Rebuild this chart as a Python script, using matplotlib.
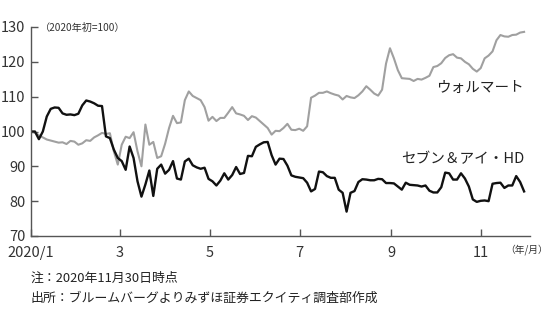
import matplotlib
matplotlib.use("Agg")
import matplotlib.pyplot as plt
import pandas as pd

plt.rcParams['font.family'] = ['Noto Sans CJK JP', 'DejaVu Sans']

start_date = "2020-01-01"
end_date = "2020-11-30"

walmart = [
    100, 99.7, 98.9, 98.3, 97.7, 97.4, 97.1, 96.8, 96.9, 96.4,
    97.3, 97.1, 96.2, 96.6, 97.5, 97.3, 98.3, 98.9, 99.6, 99.3,
    99.5, 94.3, 90.5, 96.2, 98.5, 98.1, 99.8, 94.3, 90.0, 102.0,
    96.2, 97.0, 92.4, 92.9, 96.5, 101.0, 104.5, 102.4, 102.6, 109.0,
    111.5, 110.2, 109.6, 109.0, 107.0, 103.1, 104.2, 103.0, 103.9, 103.9,
    105.4, 107.0, 105.2, 104.9, 104.5, 103.3, 104.4, 104.0, 103.0, 102.0,
    101.0, 99.1, 100.2, 100.1, 101.0, 102.2, 100.5, 100.4, 100.8, 100.2,
    101.5, 109.7, 110.3, 111.1, 111.1, 111.5, 111.0, 110.6, 110.3, 109.2,
    110.2, 109.8, 109.6, 110.4, 111.5, 113.0, 112.0, 110.9, 110.3, 112.0,
    119.5, 123.9, 121.0, 117.6, 115.3, 115.2, 115.1, 114.5, 115.1, 114.9,
    115.4, 116.0, 118.5, 118.8, 119.6, 121.1, 121.9, 122.2, 121.2, 121.0,
    120.0, 119.3, 118.0, 117.2, 118.2, 121.0, 121.8, 123.0, 126.2, 127.7,
    127.3, 127.2, 127.7, 127.8, 128.4, 128.6,
]

seven_i = [
    100, 100, 97.8, 100, 104.3, 106.5, 106.9, 106.8, 105.2, 104.8,
    104.9, 104.7, 105.1, 107.5, 108.9, 108.6, 108.1, 107.4, 107.3, 98.6,
    98.1, 94.8, 92.4, 91.5, 89.0, 95.7, 92.4, 85.7, 81.3, 84.8,
    88.8, 81.5, 89.3, 90.5, 87.9, 89.0, 91.5, 86.5, 86.2, 91.4,
    92.2, 90.3, 89.7, 89.3, 89.6, 86.4, 85.7, 84.5, 85.9, 88.0,
    86.2, 87.5, 89.8, 87.8, 88.1, 93.0, 92.9, 95.6, 96.3, 96.9,
    97.0, 93.2, 90.5, 92.2, 92.1, 90.2, 87.4, 87.0, 86.8, 86.6,
    85.3, 82.8, 83.5, 88.5, 88.3, 87.2, 86.7, 86.7, 83.3, 82.4,
    77.0, 82.4, 82.9, 85.5, 86.3, 86.2, 86.0, 86.0, 86.4, 86.3,
    85.2, 85.2, 85.1, 84.2, 83.3, 85.3, 84.7, 84.6, 84.5, 84.2,
    84.5, 83.0, 82.5, 82.5, 84.0, 88.2, 88.0, 86.2, 86.2, 88.0,
    86.5, 84.2, 80.5, 79.8, 80.1, 80.2, 80.0, 85.0, 85.2, 85.3,
    83.8, 84.5, 84.5, 87.2, 85.5, 82.8,
]

labels = ["ウォルマート", "セブン＆アイ・HD"]
tick_dates = ["2020-01-01", "2020-03-01", "2020-05-01", "2020-07-01", "2020-09-01", "2020-11-01"]
tick_labels = ["2020/1", "3", "5", "7", "9", "11"]
y_ticks = [70, 80, 90, 100, 110, 120, 130]

dates = pd.date_range(start_date, end_date, periods=len(walmart))

fig = plt.figure(figsize=(5.5, 3.19), dpi=100)
ax = fig.add_axes([31/550, 1-236/319, 499/550, 209/319])

ax.plot(dates, walmart, color="#a0a0a0", lw=1.5)
ax.plot(dates, seven_i, color="#111111", lw=1.7)

ax.set_ylim(70, 130)
ax.set_xlim(pd.Timestamp("2020-01-01"), pd.Timestamp("2020-12-04"))
ax.set_yticks(y_ticks)
ax.set_xticks(pd.to_datetime(tick_dates))
ax.set_xticklabels(tick_labels)

for s in ["top", "right"]:
    ax.spines[s].set_visible(False)
for s in ["left", "bottom"]:
    ax.spines[s].set_color("#555555")
    ax.spines[s].set_linewidth(1.0)
ax.tick_params(axis="both", direction="in", length=5, width=1.0, color="#555555",
               labelsize=10.5, labelcolor="#333333")
ax.tick_params(axis="y", pad=4)
ax.tick_params(axis="x", pad=7)

ax.text(0.018, 0.995, "（2020年初=100）", transform=ax.transAxes, fontsize=7.3,
        color="#333333", va="center", ha="left")
fig.text(548/550, 1-250/319, "（年/月）", fontsize=7, color="#333333",
         ha="right", va="center")

ax.text(pd.Timestamp("2020-11-30"), 112.6, labels[0], fontsize=10.5, color="#222222",
        ha="right", va="center")
ax.text(pd.Timestamp("2020-11-30"), 92.0, labels[1], fontsize=10.5, color="#222222",
        ha="right", va="center")

fig.text(31/550, 1-278/319, "注：2020年11月30日時点", fontsize=9.3, color="#222222",
         ha="left", va="center")
fig.text(31/550, 1-298/319, "出所：ブルームバーグよりみずほ証券エクイティ調査部作成", fontsize=9.3,
         color="#222222", ha="left", va="center")

fig.savefig("out.png", dpi=100)
